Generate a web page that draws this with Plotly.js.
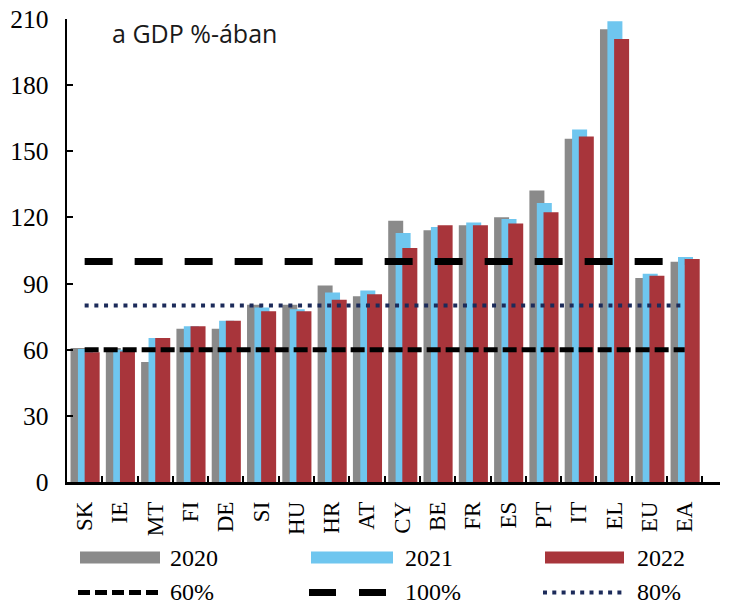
<!DOCTYPE html>
<html>
<head>
<meta charset="utf-8">
<script src="https://cdn.plot.ly/plotly-3.0.1.min.js"></script>
<style>
  html, body { margin: 0; padding: 0; background: #ffffff; }
  #chart { width: 730px; height: 606px; }
</style>
</head>
<body>
<div id="chart"></div>
<script>
// ---- data ----
const categories = ['SK','IE','MT','FI','DE','SI','HU','HR','AT','CY','BE','FR','ES','PT','IT','EL','EU','EA'];
const values2020 = [60.8, 60.8, 54.4, 69.5, 69.5, 80.4, 80.4, 89.1, 84.2, 118.5, 114.2, 116.5, 120.1, 132.2, 155.7, 205.4, 92.5, 99.9];
const values2021 = [60.3, 60.0, 65.3, 70.6, 73.1, 79.2, 78.4, 86.0, 86.9, 112.9, 115.7, 117.7, 119.3, 126.5, 159.9, 209.0, 94.5, 102.0];
const values2022 = [58.8, 59.2, 65.3, 70.6, 73.1, 77.4, 77.4, 82.7, 85.2, 106.1, 116.5, 116.5, 117.2, 122.3, 156.7, 200.9, 93.6, 101.1];
const seriesNames = ['2020', '2021', '2022'];
const refNames = ['60%', '100%', '80%'];
const refValues = [60, 100, 80];
const yTickValues = [0, 30, 60, 90, 120, 150, 180, 210];
const titleText = 'a GDP %-ában';

// ---- styles ----
const barColors = ['#8a8a8a', '#6fc6ef', '#a8353b'];
const barOffsets = [-0.4, -0.19, 0];
const barWidth = 0.425;
const refStyles = [
  {color: '#000000', width: 5, dash: '14px,5px', legendDash: '12px,5px'},
  {color: '#000000', width: 7, dash: '28px,22px', legendDash: '27px,23px'},
  {color: '#1c2b5a', width: 4, dash: '4px,5.7px', legendDash: '4px,5.3px'}
];

const W = 730, H = 606;
const M = {l: 67, r: 10, t: 19, b: 123.5};
const PW = W - M.l - M.r, PH = H - M.t - M.b;
const px = x => (x - M.l) / PW;
const py = y => (H - M.b - y) / PH;

const serif = '"Liberation Serif"';

const allValues = [values2020, values2021, values2022];
const traces = [];
allValues.forEach((vals, i) => {
  traces.push({
    type: 'bar', x: categories, y: vals, name: seriesNames[i],
    width: barWidth, offset: barOffsets[i],
    marker: {color: barColors[i], line: {width: 0}},
    showlegend: false, hoverinfo: 'x+y+name'
  });
});
refValues.forEach((v, i) => {
  traces.push({
    type: 'scatter', mode: 'lines', x: categories, y: categories.map(() => v),
    name: refNames[i],
    line: {color: refStyles[i].color, width: refStyles[i].width, dash: refStyles[i].dash},
    showlegend: false, hoverinfo: 'name'
  });
});

// ---- custom legend ----
const legCols = [{s0: 80, s1: 160, t: 168}, {s0: 311, s1: 393, t: 403}, {s0: 545, s1: 624, t: 635}];
const row1 = 558, row2 = 593;
const shapes = [];
const annotations = [];
seriesNames.forEach((n, i) => {
  const c = legCols[i];
  shapes.push({type: 'rect', xref: 'paper', yref: 'paper',
    x0: px(c.s0), x1: px(c.s1), y0: py(row1 + 6), y1: py(row1 - 6),
    fillcolor: barColors[i], line: {width: 0}});
  annotations.push({xref: 'paper', yref: 'paper', x: px(c.t), y: py(row1 + 1),
    xanchor: 'left', yanchor: 'middle', text: n, showarrow: false,
    font: {family: serif, size: 24, color: '#000'}});
});
refNames.forEach((n, i) => {
  const c = legCols[i];
  shapes.push({type: 'line', xref: 'paper', yref: 'paper',
    x0: px(c.s0 - 2), x1: px(c.s1), y0: py(row2), y1: py(row2),
    line: {color: refStyles[i].color, width: refStyles[i].width, dash: refStyles[i].legendDash}});
  annotations.push({xref: 'paper', yref: 'paper', x: px(c.t), y: py(row2),
    xanchor: 'left', yanchor: 'middle', text: n, showarrow: false,
    font: {family: serif, size: 24, color: '#000'}});
});
annotations.push({xref: 'paper', yref: 'paper', x: px(110), y: py(33),
  xanchor: 'left', yanchor: 'middle', text: titleText, showarrow: false,
  font: {family: '"Open Sans"', size: 25, color: '#1a1a1a'}});

const layout = {
  width: W, height: H,
  margin: {l: M.l, r: M.r, t: M.t, b: M.b, pad: 0},
  paper_bgcolor: '#ffffff', plot_bgcolor: '#ffffff',
  barmode: 'overlay',
  showlegend: false,
  font: {family: serif, color: '#000'},
  xaxis: {
    type: 'category', range: [-0.5, 18.0],
    showline: true, linecolor: '#000', linewidth: 2.5,
    ticks: 'inside', ticklen: 6, tickwidth: 2, tickcolor: '#000',
    tickson: 'boundaries',
    tickangle: -90, ticklabelstandoff: 8,
    tickfont: {family: serif, size: 23, color: '#000'},
    showgrid: false, zeroline: false, fixedrange: true
  },
  yaxis: {
    range: [0, 210], tickmode: 'array', tickvals: yTickValues,
    ticktext: yTickValues.map(String),
    showline: true, linecolor: '#000', linewidth: 2.5,
    ticks: 'inside', ticklen: 6, tickwidth: 2, tickcolor: '#000',
    ticklabelstandoff: 11,
    tickfont: {family: serif, size: 25.5, color: '#000'},
    showgrid: false, zeroline: false, fixedrange: true
  },
  shapes: shapes,
  annotations: annotations
};

Plotly.newPlot('chart', traces, layout, {displayModeBar: false, staticPlot: true});
</script>
</body>
</html>
